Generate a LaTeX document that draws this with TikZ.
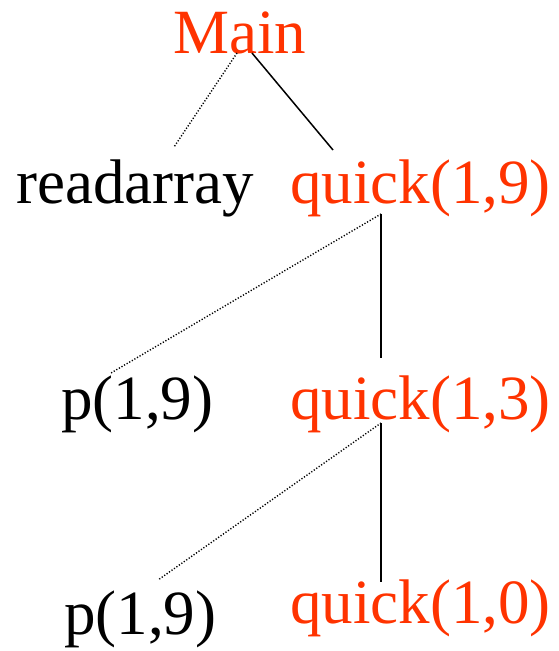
\documentclass[tikz,border=0pt]{standalone}
\usepackage{fontspec}
\setmainfont{Liberation Serif}
\usetikzlibrary{positioning}
\definecolor{callred}{RGB}{255,51,0}

\begin{document}
\begin{tikzpicture}[
        x=1pt, y=-1pt,
        call/.style={anchor=base west, inner sep=0pt, font=\fontsize{63}{63}\selectfont},
        active/.style={call, text=callred},
        done/.style={line width=1.5pt},
        pending/.style={line width=1.4pt, dash pattern=on 1.2pt off 1.8pt}
    ]
        \useasboundingbox (0,0) rectangle (558,651);

        \node[active] (main) at (173,53) {Main};
        \node[call] (read) at (16,203) {readarray};
        \node[active] (quicka) at (290,203) {quick(1,9)};
        \node[call] (parta) at (61,419) {p(1,9)};
        \node[active] (quickb) at (290,419) {quick(1,3)};
        \node[call] (partb) at (64,634) {p(1,9)};
        \node[active] (quickc) at (290,623) {quick(1,0)};

        % end points of the call lines
        \coordinate (mainl) at (237,53);
        \coordinate (mainr) at (252,53);
        \coordinate (readtop) at (174,147);
        \coordinate (quickatop) at (333,150);
        \coordinate (quickadown) at (381,214);
        \coordinate (partatop) at (111,373);
        \coordinate (quickbtop) at (381,358);
        \coordinate (quickbdown) at (381,423);
        \coordinate (partbtop) at (158,580);
        \coordinate (quickctop) at (381,582);

        \draw[pending] (mainl) -- (readtop);
        \draw[done] (mainr) -- (quickatop);
        \draw[pending] (quickadown) -- (partatop);
        \draw[done] (quickadown) -- (quickbtop);
        \draw[pending] (quickbdown) -- (partbtop);
        \draw[done] (quickbdown) -- (quickctop);
    \end{tikzpicture}
\end{document}
